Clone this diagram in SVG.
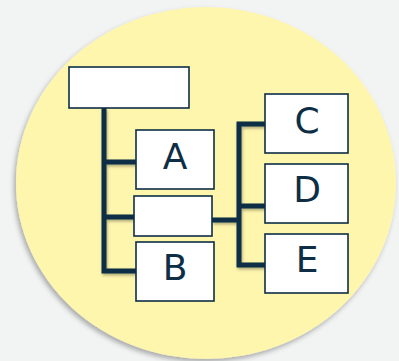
<svg xmlns="http://www.w3.org/2000/svg" width="399" height="361" viewBox="0 0 399 361">
<defs>
<filter id="sh" x="-20%" y="-20%" width="140%" height="140%">
<feDropShadow dx="-2" dy="3" stdDeviation="2.5" flood-color="#000" flood-opacity="0.3"/>
</filter>
<filter id="lsh" x="-20%" y="-20%" width="140%" height="140%">
<feDropShadow dx="1" dy="2" stdDeviation="1.5" flood-color="#000" flood-opacity="0.3"/>
</filter>
<style>
.box{fill:#ffffff;stroke:#0d2e45;stroke-width:1.6}
.ln{fill:none;stroke:#0d2e45;stroke-width:5;stroke-linejoin:miter}
.lbl{font-family:"DejaVu Sans",sans-serif;font-size:36px;fill:#0d2e45;text-anchor:middle}
</style>
</defs>
<rect width="399" height="361" fill="#f2f3f3"/>
<ellipse cx="206" cy="183" rx="190" ry="176" fill="#fff6ad" filter="url(#sh)"/>
<g id="connectors" filter="url(#lsh)">
<path class="ln" d="M104 108 V271 H136 M104 162 H136 M104 217 H134"/>
<path class="ln" d="M212 220 H239 M265 124 H239 V265 H265 M239 206 H265"/>
</g>
<g id="root"><rect class="box" x="69" y="67" width="120" height="41"/></g>
<g id="A"><rect class="box" x="136" y="130" width="78" height="59"/><text class="lbl" x="175" y="169">A</text></g>
<g id="mid"><rect class="box" x="134" y="196" width="78" height="40"/></g>
<g id="B"><rect class="box" x="136" y="242" width="78" height="59"/><text class="lbl" x="175" y="280">B</text></g>
<g id="C"><rect class="box" x="265" y="94" width="83" height="59"/><text class="lbl" x="307" y="133">C</text></g>
<g id="D"><rect class="box" x="265" y="164" width="83" height="59"/><text class="lbl" x="307" y="202">D</text></g>
<g id="E"><rect class="box" x="265" y="234" width="83" height="59"/><text class="lbl" x="307" y="272">E</text></g>
</svg>
